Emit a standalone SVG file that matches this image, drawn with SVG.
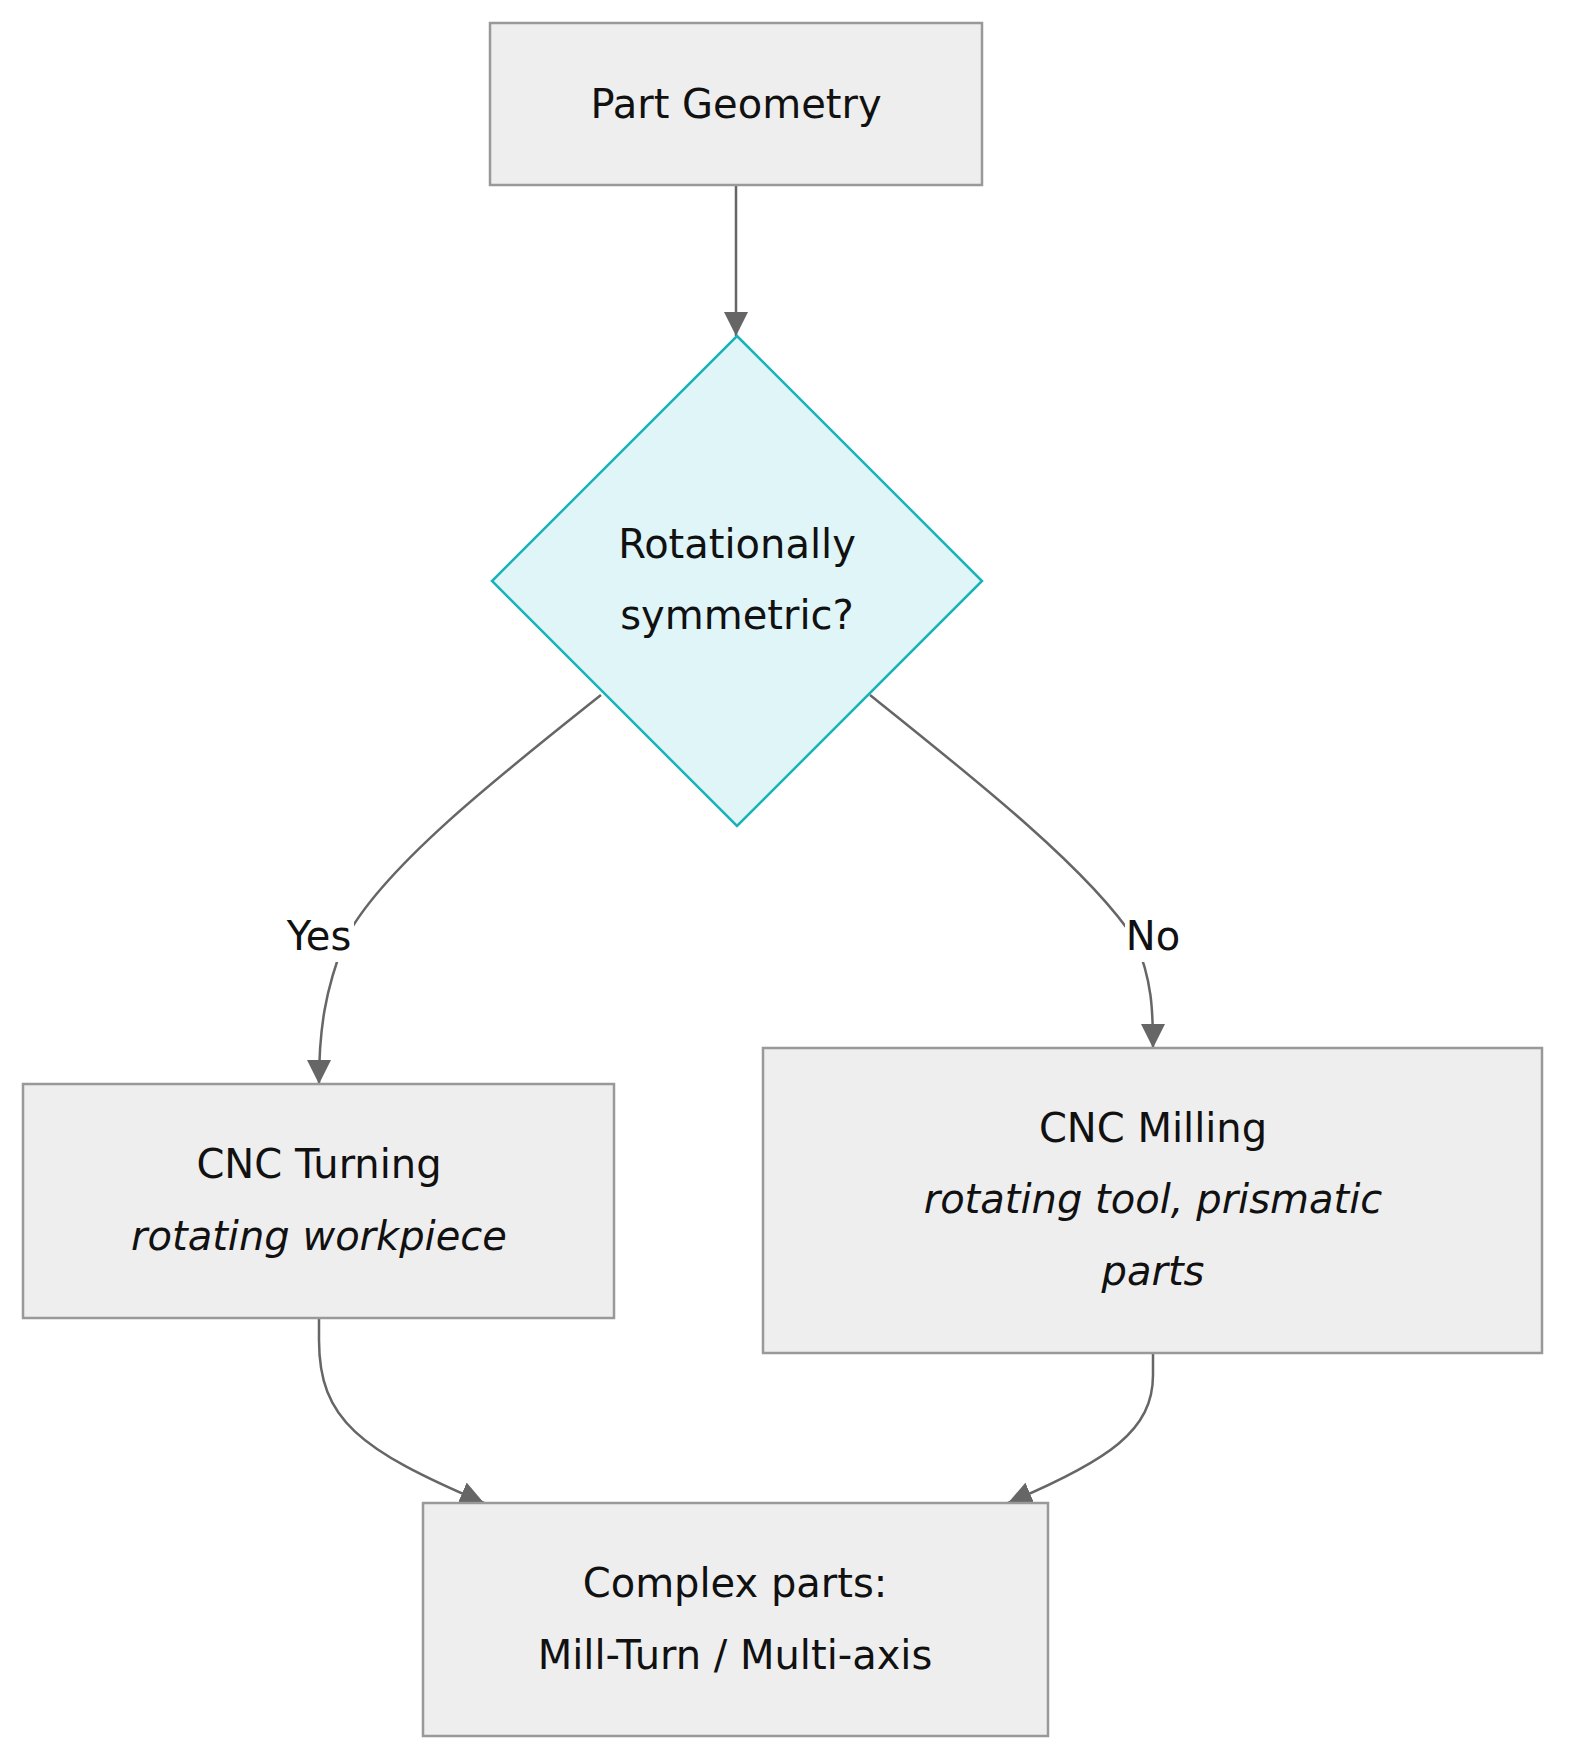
<svg xmlns="http://www.w3.org/2000/svg" width="1572" height="1764" viewBox="0 0 1572 1764">
<style>
.box{fill:#eeeeee;stroke:#999;stroke-width:2.5}
.dia{fill:#e0f5f8;stroke:#17b3b8;stroke-width:2.5}
.t{font-family:"DejaVu Sans",sans-serif;font-size:40px;fill:#111;text-anchor:middle;dominant-baseline:central}
.i{font-style:italic}
.e{fill:none;stroke:#666;stroke-width:2.5;marker-end:url(#a)}
.lb{fill:#fff}
</style>
<defs><marker id="a" viewBox="0 0 10 10" refX="9" refY="5" markerWidth="9" markerHeight="9" markerUnits="userSpaceOnUse" orient="auto"><path d="M0,0L10,5L0,10z" fill="#666" transform="scale(1)"/></marker></defs>
<defs><marker id="b" viewBox="0 0 10 10" refX="10" refY="5" markerWidth="24" markerHeight="24" markerUnits="userSpaceOnUse" orient="auto"><path d="M0,0L10,5L0,10z" fill="#666"/></marker></defs>
<g id="edges">
<path class="e" style="marker-end:url(#b)" d="M736,185 L736,336"/>
<path class="e" style="marker-end:url(#b)" d="M601,695 C500,775 380,870 345,940 C325,990 319,1030 319,1084"/>
<path class="e" style="marker-end:url(#b)" d="M870,695 C970,775 1090,870 1135,940 C1152,980 1153,1010 1153,1048"/>
<path class="e" style="marker-end:url(#b)" d="M319,1318 L319,1340 C319,1420 360,1450 484,1503"/>
<path class="e" style="marker-end:url(#b)" d="M1153,1353 L1153,1375 C1153,1430 1110,1460 1008,1503"/>
<rect class="lb" x="284" y="912" width="70" height="50"/>
<text class="t" x="319" y="936">Yes</text>
<rect class="lb" x="1125" y="912" width="56" height="50"/>
<text class="t" x="1153" y="936">No</text>
</g>
<g id="part"><rect class="box" x="490" y="23" width="492" height="162"/><text class="t" x="736" y="104">Part Geometry</text></g>
<g id="dec"><path class="dia" d="M737,336 L982,581 L737,826 L492,581 Z"/><text class="t" x="737" y="544">Rotationally</text><text class="t" x="737" y="615">symmetric?</text></g>
<g id="turn"><rect class="box" x="23" y="1084" width="591" height="234"/><text class="t" x="319" y="1164">CNC Turning</text><text class="t i" x="319" y="1236">rotating workpiece</text></g>
<g id="mill"><rect class="box" x="763" y="1048" width="779" height="305"/><text class="t" x="1153" y="1128">CNC Milling</text><text class="t i" x="1153" y="1199">rotating tool, prismatic</text><text class="t i" x="1153" y="1271">parts</text></g>
<g id="complex"><rect class="box" x="423" y="1503" width="625" height="233"/><text class="t" x="735" y="1583">Complex parts:</text><text class="t" x="735" y="1655">Mill-Turn / Multi-axis</text></g>
</svg>
